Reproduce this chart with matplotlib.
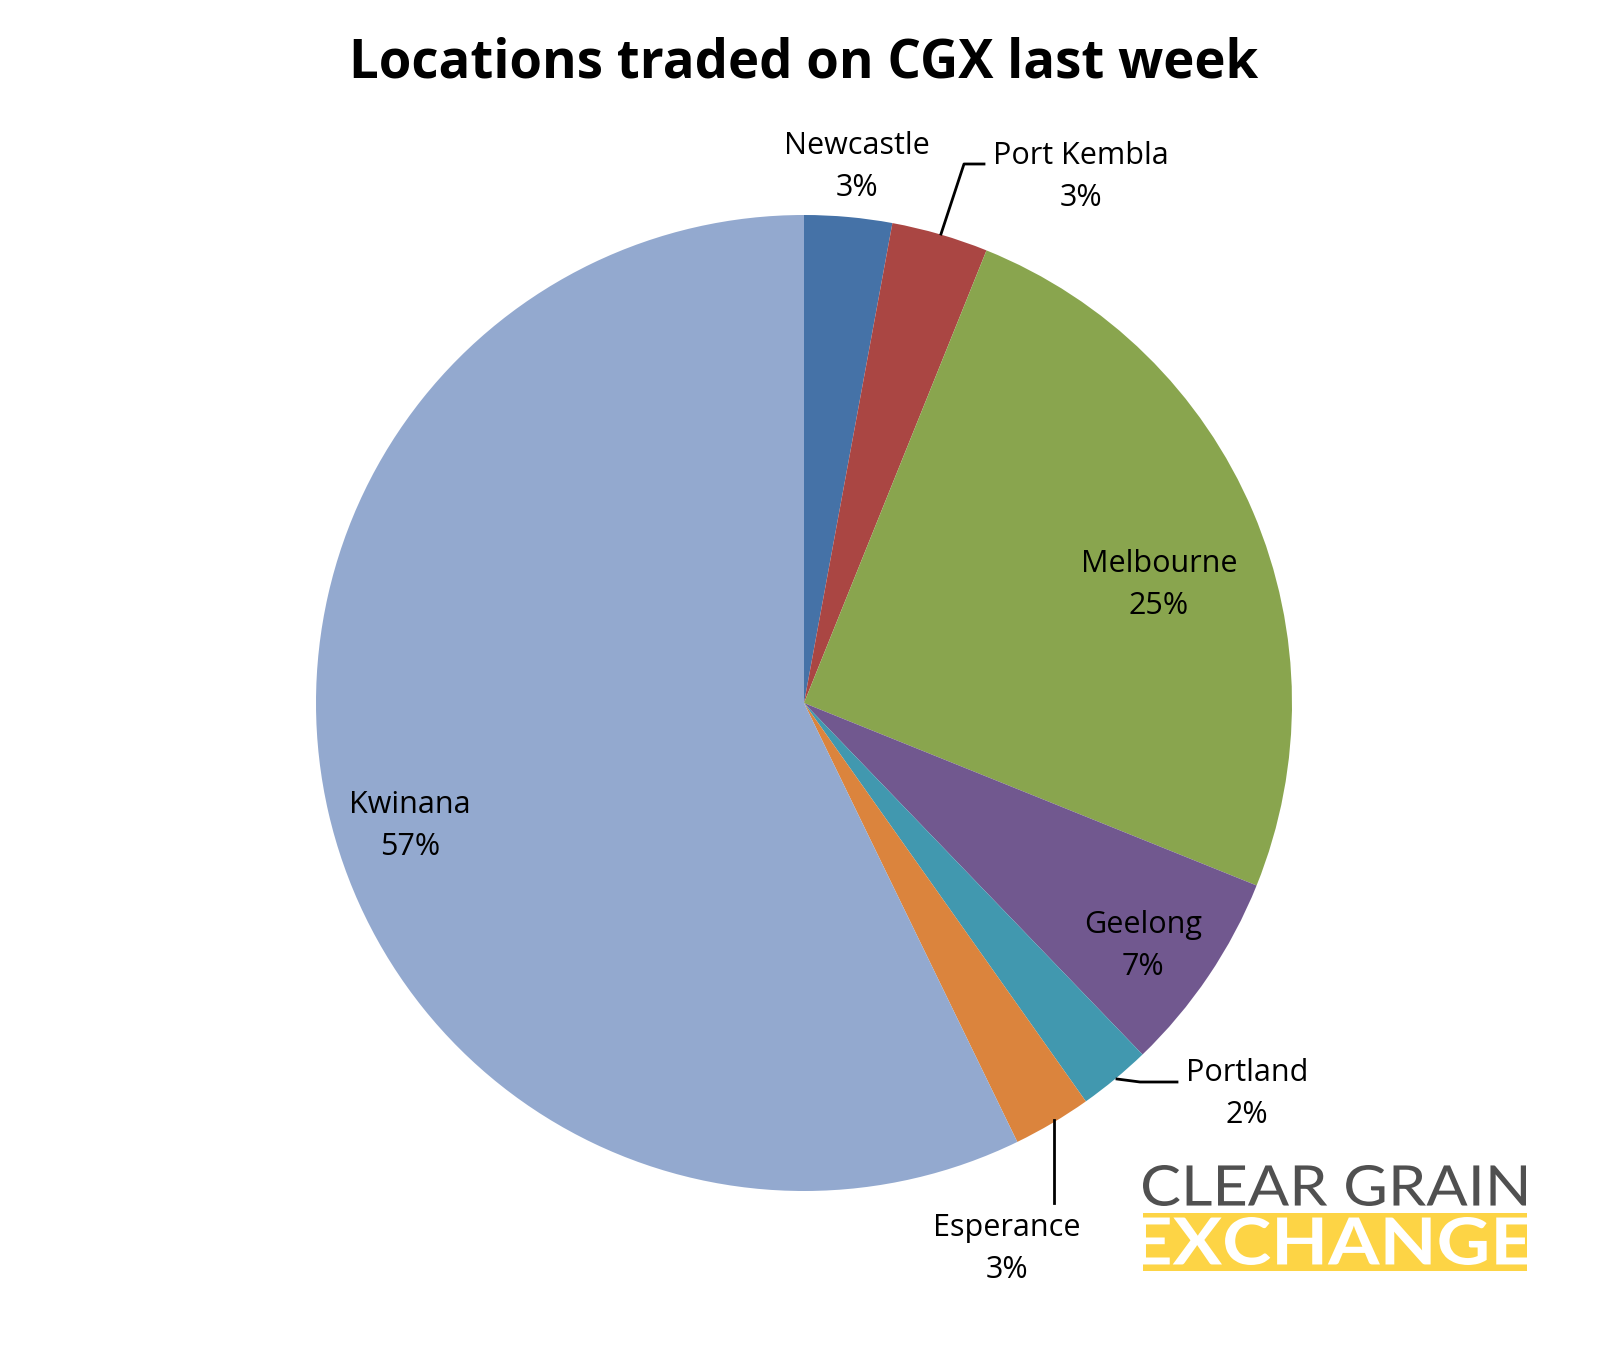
import matplotlib
matplotlib.use("Agg")
import matplotlib.pyplot as plt
from matplotlib.patches import Rectangle, PathPatch
from matplotlib.textpath import TextPath
from matplotlib.font_manager import FontProperties
from matplotlib.transforms import Affine2D

plt.rcParams['font.family'] = ['Open Sans', 'DejaVu Sans']

# data
locations = ['Newcastle', 'Port Kembla', 'Melbourne', 'Geelong', 'Portland', 'Esperance', 'Kwinana']
shares = [2.9, 3.2, 25.0, 6.7, 2.4, 2.6, 57.2]
pct_labels = ['3%', '3%', '25%', '7%', '2%', '3%', '57%']
colors = ['#4572A7', '#AA4643', '#89A54E', '#71588F', '#4198AF', '#DB843D', '#93A9CF']

W, H = 1608, 1352
fig = plt.figure(figsize=(W / 100, H / 100), dpi=100)
ax = fig.add_axes([0, 0, 1, 1])

cx, cy, r = 804, H - 703, 488
ax.pie(shares, colors=colors, startangle=90, counterclock=False,
       center=(cx, cy), radius=r, frame=True,
       wedgeprops=dict(linewidth=0))
ax.set_xlim(0, W)
ax.set_ylim(0, H)
ax.set_aspect('equal')
ax.axis('off')

# label positions in pixel coords from top
label_pos = {
    'Newcastle': (857, 167),
    'Port Kembla': (1081, 177),
    'Melbourne': (1159, 585),
    'Geelong': (1143, 946),
    'Portland': (1247, 1094),
    'Esperance': (1007, 1249),
    'Kwinana': (410, 826),
}
for name, pct in zip(locations, pct_labels):
    x, y = label_pos[name]
    ax.text(x, H - y, f"{name}\n{pct}", ha='center', va='center',
            fontsize=22, linespacing=1.55, color='black')

# leader lines
leaders = [
    [(941, 234), (964, 164), (984, 164)],
    [(1117, 1079), (1140, 1082), (1177, 1082)],
    [(1054, 1120), (1054, 1203)],
]
for pts in leaders:
    ax.plot([p[0] for p in pts], [H - p[1] for p in pts], color='black', lw=2)

fig.text(0.5, 1 - 64 / H, 'Locations traded on CGX last week', ha='center', va='center',
         fontsize=38, fontweight='bold')


def fit_text(s, x0, x1, ytop, ybot, color, weight, clip=None):
    tp = TextPath((0, 0), s, size=100, prop=FontProperties(family='Lato', weight=weight))
    ext = tp.get_extents()
    sx = (x1 - x0) / ext.width
    sy = (ybot - ytop) / ext.height
    tr = Affine2D().translate(-ext.x0, -ext.y0).scale(sx, sy).translate(x0, H - ybot)
    patch = PathPatch(tr.transform_path(tp), color=color, lw=0)
    ax.add_patch(patch)
    if clip is not None:
        patch.set_clip_path(clip)


# logo
bar_x0, bar_x1 = 1143, 1527
bar = Rectangle((bar_x0, H - 1271), bar_x1 - bar_x0, 58, color='#FDD445', lw=0)
ax.add_patch(bar)
fit_text('CLEAR GRAIN', 1143, 1526, 1165, 1206, '#505050', 'normal')
fit_text('EXCHANGE', 1136, 1530, 1217, 1265, 'white', 'bold', clip=bar)

fig.savefig('out.png', dpi=100)
